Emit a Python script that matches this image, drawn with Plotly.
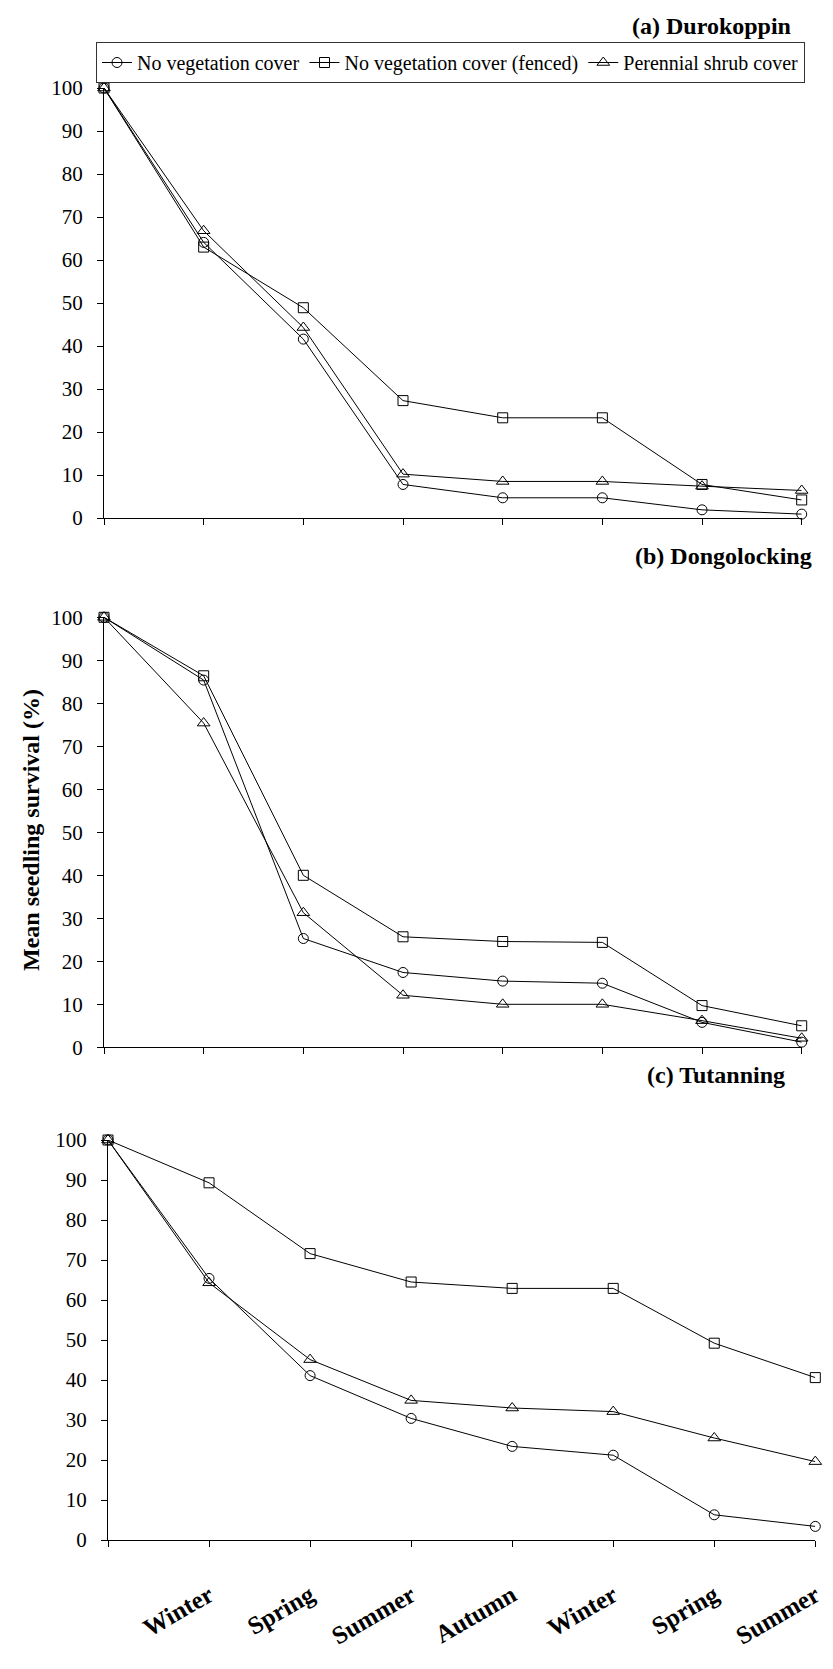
import plotly.graph_objects as go

# ---- data ----
seasons = ["Winter", "Spring", "Summer", "Autumn", "Winter", "Spring", "Summer"]
x_idx = [0, 1, 2, 3, 4, 5, 6, 7]
series_names = ["No vegetation cover", "No vegetation cover (fenced)", "Perennial shrub cover"]

a_none = [100, 64.1, 41.6, 7.8, 4.7, 4.7, 1.9, 0.9]
a_fenced = [100, 63.0, 48.9, 27.3, 23.3, 23.3, 7.8, 4.2]
a_shrub = [100, 66.8, 44.3, 10.2, 8.5, 8.5, 7.4, 6.4]

b_none = [100, 85.4, 25.3, 17.4, 15.4, 14.9, 5.8, 1.2]
b_fenced = [100, 86.4, 40.0, 25.7, 24.6, 24.4, 9.7, 5.0]
b_shrub = [100, 75.4, 31.3, 12.1, 10.0, 10.0, 6.2, 2.1]

c_none = [100, 65.4, 41.1, 30.4, 23.4, 21.2, 6.3, 3.4]
c_fenced = [100, 89.3, 71.6, 64.5, 62.9, 62.9, 49.2, 40.6]
c_shrub = [100, 64.3, 45.1, 34.9, 33.0, 32.1, 25.5, 19.6]

panel_titles = ["(a) Durokoppin", "(b) Dongolocking", "(c) Tutanning"]
y_title = "Mean seedling survival (%)"

W, H = 833, 1669
FONT = "Liberation Serif"
symbols = ["circle-open", "square-open", "triangle-up-open"]
sizes = [10, 10, 11]

def px_x(p):
    return p / W

def px_y(p):
    return 1 - p / H

panels = [
    dict(data=[a_none, a_fenced, a_shrub], xd=(96, 793.7), yd=(80, 510), title_y=18, title_x=785),
    dict(data=[b_none, b_fenced, b_shrub], xd=(96, 793.7), yd=(609.3, 1039.3), title_y=548, title_x=806),
    dict(data=[c_none, c_fenced, c_shrub], xd=(100, 807.3), yd=(1132, 1532), title_y=1067, title_x=779),
]

fig = go.Figure()
layout = dict(
    template="none",
    width=W, height=H,
    margin=dict(l=0, r=0, t=0, b=0, pad=0, autoexpand=False),
    paper_bgcolor="white", plot_bgcolor="white",
    font=dict(family=FONT, size=21, color="black"),
    showlegend=True,
    legend=dict(
        orientation="h", x=px_x(88), y=px_y(34), xanchor="left", yanchor="top",
        bordercolor="#333", borderwidth=1, bgcolor="white",
        font=dict(family=FONT, size=20, color="black"),
        itemwidth=30, tracegroupgap=0, itemsizing="trace",
    ),
    annotations=[],
)

for i, p in enumerate(panels):
    n = "" if i == 0 else str(i + 1)
    for j, vals in enumerate(p["data"]):
        fig.add_trace(go.Scatter(
            x=x_idx, y=vals, mode="lines+markers", name=series_names[j],
            showlegend=(i == 0),
            line=dict(color="black", width=1),
            marker=dict(symbol=symbols[j], size=sizes[j], color="black",
                        line=dict(color="black", width=1)),
            cliponaxis=False,
            xaxis="x" + n, yaxis="y" + n,
        ))
    is_last = (i == 2)
    layout["xaxis" + n] = dict(
        domain=[px_x(p["xd"][0]), px_x(p["xd"][1])],
        range=[0, 7], anchor="y" + n, automargin=False,
        tickvals=x_idx,
        ticktext=([""] + seasons) if is_last else [""] * 8,
        showticklabels=is_last,
        tickangle=-30 if is_last else 0,
        tickfont=dict(family=FONT, size=25, color="black", weight="bold"),
        ticks="outside", ticklen=6, tickcolor="black", tickwidth=1,
        showline=True, linecolor="black", linewidth=1,
        showgrid=False, zeroline=False, layer="below traces",
        ticklabelstandoff=24 if is_last else 0,
    )
    layout["yaxis" + n] = dict(
        domain=[px_y(p["yd"][1]), px_y(p["yd"][0])],
        range=[0, 100], anchor="x" + n, automargin=False,
        tickvals=list(range(0, 101, 10)),
        ticks="outside", ticklen=6, tickcolor="black", tickwidth=1,
        showline=True, linecolor="black", linewidth=1,
        showgrid=False, zeroline=False, layer="below traces",
        tickfont=dict(family=FONT, size=21, color="black"),
        ticklabelstandoff=10,
    )
    layout["annotations"].append(dict(
        text="<b>" + panel_titles[i] + "</b>", xref="paper", yref="paper",
        x=px_x(p["title_x"]), y=px_y(p["title_y"]), xanchor="right", yanchor="middle",
        showarrow=False, font=dict(family=FONT, size=24, color="black"),
    ))

layout["annotations"].append(dict(
    text="<b>" + y_title + "</b>", xref="paper", yref="paper",
    x=px_x(23), y=px_y(822), xanchor="center", yanchor="middle", textangle=-90,
    showarrow=False, font=dict(family=FONT, size=24, color="black"),
))

fig.update_layout(**layout)
fig.write_html("out.html")
